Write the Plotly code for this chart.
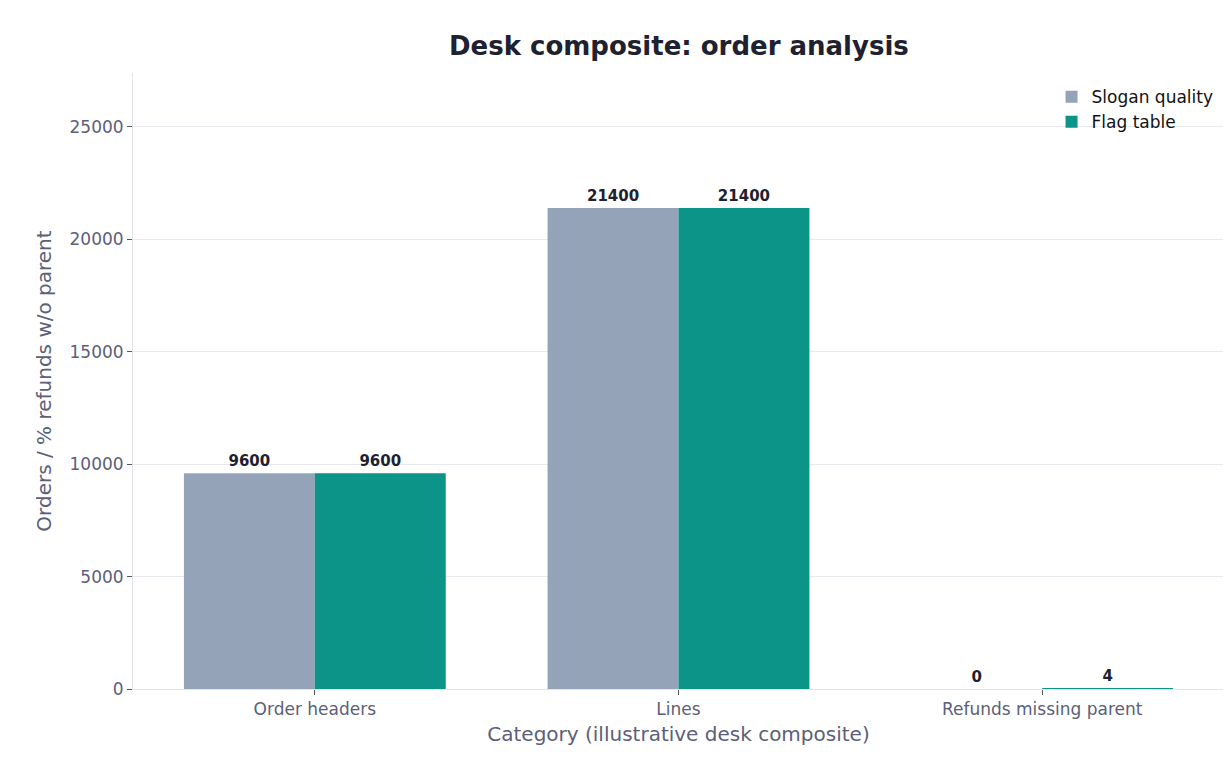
import plotly.graph_objects as go

categories = ["Order headers", "Lines", "Refunds missing parent"]
slogan_quality = [9600, 21400, 0]
flag_table = [9600, 21400, 4]

fig = go.Figure()
for name, vals, col in [("Slogan quality", slogan_quality, "#94a3b8"), ("Flag table", flag_table, "#0d9488")]:
    fig.add_bar(name=name, x=categories, y=vals, marker=dict(color=col, line=dict(width=0)),
                text=[str(v) for v in vals], textposition="outside",
                texttemplate="<b>%{text}</b>",
                textfont=dict(size=15, color="#1e2130", family="DejaVu Sans"), cliponaxis=False)
fig.update_layout(
    width=1231, height=760, barmode="group", bargap=0.28, bargroupgap=0,
    paper_bgcolor="white", plot_bgcolor="white",
    font=dict(family="DejaVu Sans", size=17, color="#5b6078"),
    margin=dict(l=125, r=15, t=65, b=79),
    title=dict(text="<b>Desk composite: order analysis</b>", x=0.545, xanchor="center", y=0.962,
               font=dict(size=26, color="#1e2130")),
    legend=dict(x=0.995, y=0.99, xanchor="right", yanchor="top", bgcolor="rgba(0,0,0,0)",
                font=dict(size=17, color="#111111")),
    xaxis=dict(title=dict(text="Category (illustrative desk composite)", font=dict(size=20), standoff=8),
               showline=True, linecolor="#e2e5ea", ticks="outside", ticklen=5, tickcolor="#555",
               tickfont=dict(size=17), automargin=False),
    yaxis=dict(title=dict(text="Orders / % refunds w/o parent", font=dict(size=20), standoff=12),
               range=[0, 27400], dtick=5000, tickformat="d", showgrid=True, gridcolor="#e8eaef",
               showline=True, linecolor="#e2e5ea", ticks="outside", ticklen=5, tickcolor="#555",
               tickfont=dict(size=17), zeroline=False, automargin=False),
)
fig.write_html("out.html")
